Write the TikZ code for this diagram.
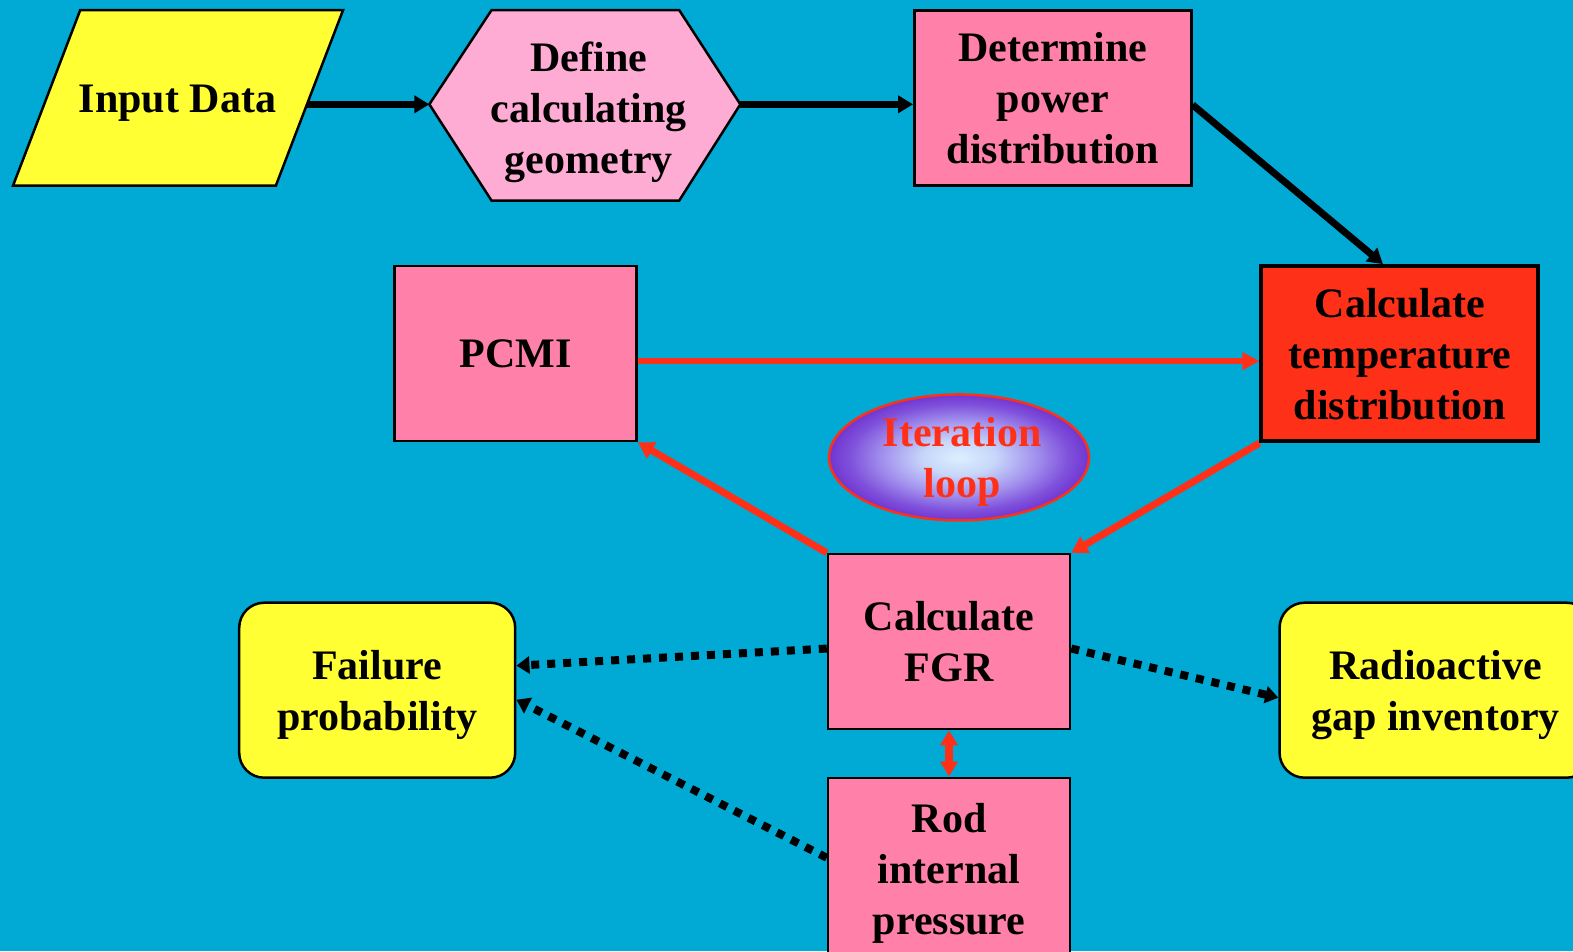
\documentclass[tikz,border=0pt]{standalone}
\usepackage{fontspec}
\setmainfont{Liberation Serif}
\usetikzlibrary{arrows.meta,shapes.geometric}
\definecolor{bg}{RGB}{0,170,212}
\definecolor{yel}{RGB}{255,255,51}
\definecolor{pinkl}{RGB}{255,172,212}
\definecolor{pinkb}{RGB}{255,128,168}
\definecolor{redb}{RGB}{255,48,24}
\pgfdeclareradialshading{iterglow}{\pgfpoint{0bp}{0bp}}{rgb(0bp)=(0.86,0.94,1); rgb(7bp)=(0.78,0.84,0.98); rgb(15bp)=(0.63,0.56,0.93); rgb(21bp)=(0.5,0.32,0.86); rgb(25bp)=(0.44,0.21,0.82); rgb(50bp)=(0.44,0.21,0.82)}
\begin{document}
\begin{tikzpicture}[x=1.00319pt,y=-1.00319pt,
  txt/.style={font=\fontsize{42}{51}\selectfont\bfseries, align=center, text=black, text depth=0pt, inner sep=0pt},
  boxpink/.style={txt, draw=black, line width=2.5pt, fill=pinkb},
  boxyel/.style={txt, draw=black, line width=2.5pt, fill=yel, rounded corners=25pt},
  boxred/.style={txt, draw=black, line width=4pt, fill=redb},
  shapeline/.style={draw=black, line width=2.5pt},
  blk/.style={draw=black, line width=7pt, -{Triangle[length=15pt,width=17pt]}},
  redarr/.style={draw=redb, line width=6pt, -{Triangle[length=17pt,width=17pt]}},
  redthick/.style={draw=redb, line width=7pt, -{Triangle[length=16pt,width=18pt]}},
  redboth/.style={draw=redb, line width=8pt, {Triangle[length=15pt,width=17pt]}-{Triangle[length=15pt,width=17pt]}},
  dotarr/.style={draw=black, line width=8pt, dash pattern=on 8pt off 8pt, -{Triangle[length=13pt,width=17pt]}}
]
\useasboundingbox (0,0) rectangle (1568,948);
\fill[bg] (0,0) rectangle (1568,948);
\clip (0,0) rectangle (1568,948);

% Input data (parallelogram)
\draw[shapeline, fill=yel] (80,10) -- (342,10) -- (275,185) -- (13,185) -- cycle;
\node[txt] (inp) at (177,98.5) {Input Data};
\coordinate (inpE) at (306,104);

% Define calculating geometry (hexagon)
\draw[shapeline, fill=pinkl] (428,104) -- (490,10) -- (677,10) -- (738,104) -- (677,200) -- (490,200) -- cycle;
\node[txt] (geo) at (587,107) {Define\\calculating\\geometry};
\coordinate (geoW) at (428,104);
\coordinate (geoE) at (738,104);

% boxes
\node[boxpink, minimum width=277pt, minimum height=175pt] (det) at (1049.5,97.5) {Determine\\power\\distribution};
\node[boxred, minimum width=277pt, minimum height=175pt] (ct) at (1395.5,352.5) {Calculate\\temperature\\distribution};
\node[boxpink, minimum width=242pt, minimum height=175pt] (pcmi) at (514,352.5) {PCMI};
\node[boxpink, minimum width=242pt, minimum height=175pt] (fgr) at (946,639.5) {Calculate\\FGR};
\node[boxpink, minimum width=242pt, minimum height=182pt] (rod) at (946,866) {Rod\\internal\\pressure};
\node[boxyel, minimum width=276pt, minimum height=175pt] (fail) at (376,688) {Failure\\probability};
\node[boxyel, minimum width=312pt, minimum height=175pt] (rad) at (1431,688) {Radioactive\\gap inventory};

% iteration loop ellipse
\node[ellipse, draw=redb, line width=2.5pt, shading=iterglow, minimum width=260pt, minimum height=126pt, inner sep=0pt,
      font=\fontsize{42}{51}\selectfont\bfseries, text=redb, align=center, text depth=0pt] (iter) at (956,456) {\hspace*{6pt}Iteration\\\hspace*{6pt}loop};

% connectors
\draw[blk] (inpE) -- (geoW);
\draw[blk] (geoE) -- (det.west |- geoE);
\draw[blk] ([yshift=-7pt]det.east) -- ([xshift=-17pt]ct.north);
\draw[redarr] ([yshift=-7.5pt]pcmi.east) -- ([yshift=-7.5pt]ct.west);
\draw[redthick] (ct.south west) -- (fgr.north east);
\draw[redthick] (fgr.north west) -- (pcmi.south east);
\draw[redboth] (fgr.south) -- (rod.north);
\draw[dotarr] ([yshift=-7pt]fgr.west) -- ([yshift=24.5pt]fail.east);
\draw[dotarr] ([yshift=11pt]rod.west) -- ([yshift=-9.5pt]fail.east);
\draw[dotarr] ([yshift=-7pt]fgr.east) -- ([yshift=-7.5pt]rad.west);
\end{tikzpicture}
\end{document}
